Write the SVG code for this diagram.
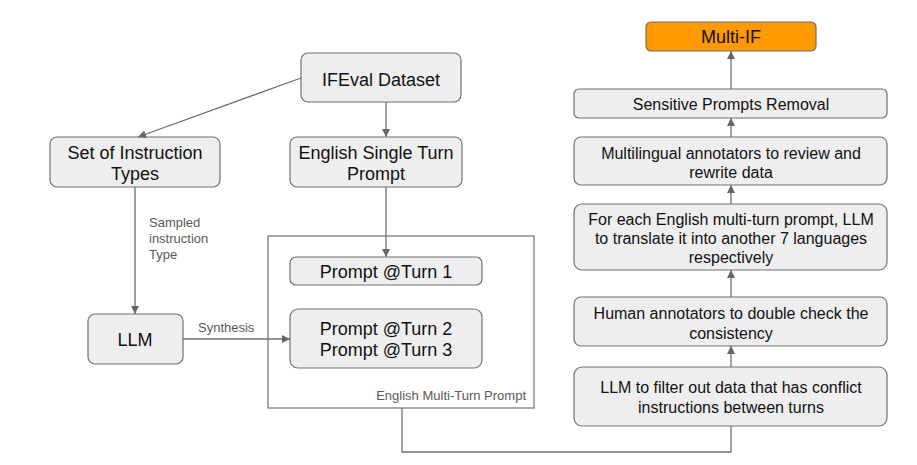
<svg xmlns="http://www.w3.org/2000/svg" width="917" height="465" viewBox="0 0 917 465">
<defs>
<marker id="ah" viewBox="0 0 10 10" refX="10" refY="5" markerWidth="8" markerHeight="8" markerUnits="userSpaceOnUse" orient="auto">
<path d="M0,0 L10,5 L0,10 z" fill="#666"/>
</marker>
<style>
.box{fill:#eeeeee;stroke:#707070;stroke-width:1.2}
.orange{fill:#ff9900;stroke:#707070;stroke-width:1.2}
.t{font-family:"Liberation Sans",Arial,sans-serif;fill:#111;text-anchor:middle}
.big{font-size:18px}
.mid{font-size:16px}
.lbl{font-family:"Liberation Sans",Arial,sans-serif;font-size:13px;fill:#595959}
.conn{fill:none;stroke:#707070;stroke-width:1.3}
</style>
</defs>
<rect width="917" height="465" fill="#fff"/>
<g id="container">
<rect x="268" y="236" width="266" height="172" fill="none" stroke="#707070" stroke-width="1.2"/>
<text class="lbl" x="526" y="400" text-anchor="end">English Multi-Turn Prompt</text>
</g>
<g id="ifeval">
<rect class="box" x="301" y="53" width="160" height="49" rx="7"/>
<text class="t big" x="381" y="86">IFEval Dataset</text>
</g>
<g id="settypes">
<rect class="box" x="50" y="137" width="170" height="50" rx="7"/>
<text class="t big" x="135" y="159">Set of Instruction</text>
<text class="t big" x="135" y="180">Types</text>
</g>
<g id="english-single">
<rect class="box" x="290" y="137" width="172" height="50" rx="7"/>
<text class="t big" x="376" y="159">English Single Turn</text>
<text class="t big" x="376" y="180">Prompt</text>
</g>
<g id="llm">
<rect class="box" x="88" y="314" width="95" height="50" rx="7"/>
<text class="t big" x="135" y="346">LLM</text>
</g>
<g id="turn1">
<rect class="box" x="290" y="257" width="192" height="28" rx="6"/>
<text class="t big" x="386" y="278">Prompt @Turn 1</text>
</g>
<g id="turn23">
<rect class="box" x="290" y="309" width="192" height="59" rx="8"/>
<text class="t big" x="386" y="335">Prompt @Turn 2</text>
<text class="t big" x="386" y="356">Prompt @Turn 3</text>
</g>
<g id="multiif">
<rect class="orange" x="646" y="22" width="170" height="29" rx="5"/>
<text class="t big" x="731" y="43">Multi-IF</text>
</g>
<g id="sensitive">
<rect class="box" x="574" y="89" width="313" height="29" rx="5"/>
<text class="t mid" x="731" y="110">Sensitive Prompts Removal</text>
</g>
<g id="multilingual">
<rect class="box" x="574" y="137" width="313" height="48" rx="7"/>
<text class="t mid" x="731" y="159">Multilingual annotators to review and</text>
<text class="t mid" x="731" y="178">rewrite data</text>
</g>
<g id="translate">
<rect class="box" x="574" y="204" width="313" height="66" rx="8"/>
<text class="t mid" x="731" y="225">For each English multi-turn prompt, LLM</text>
<text class="t mid" x="731" y="244">to translate it into another 7 languages</text>
<text class="t mid" x="731" y="263">respectively</text>
</g>
<g id="human">
<rect class="box" x="574" y="297" width="313" height="49" rx="7"/>
<text class="t mid" x="731" y="319">Human annotators to double check the</text>
<text class="t mid" x="731" y="339">consistency</text>
</g>
<g id="filter">
<rect class="box" x="574" y="367" width="313" height="59" rx="8"/>
<text class="t mid" x="731" y="393">LLM to filter out data that has conflict</text>
<text class="t mid" x="731" y="413">instructions between turns</text>
</g>
<g id="connectors">
<path class="conn" d="M301,78 L138,137" marker-end="url(#ah)"/>
<path class="conn" d="M386,102 L386,137" marker-end="url(#ah)"/>
<path class="conn" d="M135,187 L135,314" marker-end="url(#ah)"/>
<path class="conn" d="M386,187 L386,257" marker-end="url(#ah)"/>
<path class="conn" d="M183,339 L290,339" marker-end="url(#ah)"/>
<path class="conn" d="M402,408 L402,452 L731,452 L731,426"/>
<path class="conn" d="M731,367 L731,346" marker-end="url(#ah)"/>
<path class="conn" d="M731,297 L731,270" marker-end="url(#ah)"/>
<path class="conn" d="M731,204 L731,185" marker-end="url(#ah)"/>
<path class="conn" d="M731,137 L731,118" marker-end="url(#ah)"/>
<path class="conn" d="M731,89 L731,51" marker-end="url(#ah)"/>
<text class="lbl" x="149" y="227">Sampled</text>
<text class="lbl" x="149" y="243">instruction</text>
<text class="lbl" x="149" y="259">Type</text>
<text class="lbl" x="198" y="332">Synthesis</text>
</g>
</svg>
